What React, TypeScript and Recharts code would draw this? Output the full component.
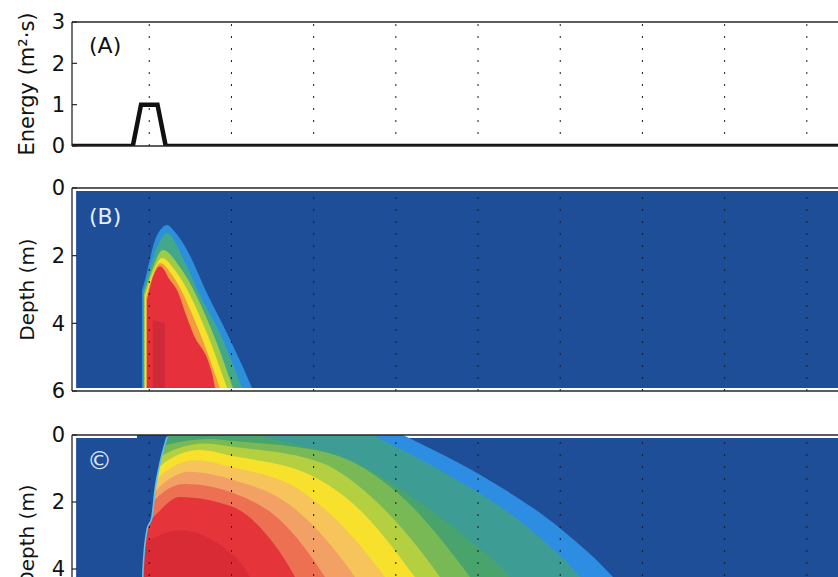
import { ComposedChart, Area, Line, XAxis, YAxis, ReferenceLine, ReferenceArea } from "recharts";

const X_MIN = 0.06;
const X_MAX = 10;
const timeTicks = [1, 2, 3, 4, 5, 6, 7, 8, 9];

// (A) energy input
const energyTime = [0.06, 0.8, 0.9, 1.1, 1.2, 10];
const energy = [0, 0, 1, 1, 0, 0];
const energyTicks = [0, 1, 2, 3];

const depthTicks = [0, 2, 4, 6];

// (B) top of each contour band, [time, depth], outer band first
const bTops = [
  [[0.912, 3.02], [0.948, 2.72], [0.985, 2.34], [1.07, 1.54], [1.155, 1.18], [1.216, 1.09], [1.313, 1.3], [1.459, 1.83], [1.702, 3.11], [1.946, 4.29], [2.14, 5.3], [2.25, 5.91]],
  [[0.924, 3.08], [1.009, 2.37], [1.106, 1.69], [1.216, 1.33], [1.41, 2.07], [1.617, 3.17], [1.86, 4.29], [2.128, 5.91]],
  [[0.936, 3.14], [1.033, 2.43], [1.167, 1.83], [1.374, 2.34], [1.775, 4.29], [2.019, 5.91]],
  [[0.948, 3.2], [1.045, 2.49], [1.155, 2.07], [1.313, 2.43], [1.702, 4.29], [1.946, 5.91]],
  [[0.96, 3.25], [1.058, 2.49], [1.131, 2.22], [1.277, 2.57], [1.617, 4.29], [1.86, 5.91]],
  [[0.972, 3.31], [1.033, 2.72], [1.131, 2.31], [1.252, 2.72], [1.35, 3.08], [1.435, 3.67], [1.532, 4.29], [1.763, 5.47], [1.8, 5.91]],
  [[1.045, 3.9], [1.19, 4.0]],
];
const bColors = ["#2b8fdc", "#43a88a", "#9fcb45", "#f5e12b", "#f49a3f", "#e6303b", "#cf2a3a"];
const B_BOTTOM = 5.91;

// (C) top of each contour band, [time, depth], outer band first
const cTops = [
  [[0.887, -3.5], [4.087, 0], [5.024, 1.19], [5.997, 2.78], [6.642, 4.24], [7.2, 6]],
  [[0.887, -3.3], [3.72, 0], [4.64, 1.19], [5.68, 2.9], [6.25, 4.24], [6.8, 6]],
  [[0.887, -1.8], [2.347, 0], [3.442, 0.75], [4.659, 2.69], [5.388, 4.24], [5.95, 6]],
  [[0.887, 0.8], [1.204, 0.3], [1.739, 0.12], [2.019, 0.18], [3.199, 0.55], [4.05, 1.79], [4.902, 4.24], [5.4, 6]],
  [[0.887, 1.2], [1.167, 0.6], [1.678, 0.25], [2.019, 0.35], [3.077, 0.81], [3.807, 2.09], [4.537, 4.24], [5.0, 6]],
  [[0.887, 1.6], [1.131, 0.93], [1.617, 0.45], [2.019, 0.63], [2.955, 1.19], [3.564, 2.24], [4.233, 4.24], [4.75, 6]],
  [[0.887, 2.0], [1.106, 1.28], [1.556, 0.75], [2.019, 0.96], [2.834, 1.64], [3.868, 4.24], [4.35, 6]],
  [[0.887, 2.3], [1.07, 1.7], [1.496, 1.1], [2.019, 1.34], [2.712, 2.09], [3.503, 4.24], [3.95, 6]],
  [[0.887, 2.5], [1.009, 2.09], [1.435, 1.46], [2.019, 1.73], [2.59, 2.54], [3.138, 4.24], [3.55, 6]],
  [[0.887, 2.8], [1.009, 2.54], [1.374, 1.85], [2.019, 2.15], [2.432, 2.99], [2.773, 4.24], [3.1, 6]],
  [[0.887, 3.3], [1.009, 3.13], [1.374, 2.84], [1.86, 3.28], [2.225, 4.24], [2.5, 6]],
];
const cColors = ["#2d8de2", "#3d9d94", "#48a46c", "#78b955", "#b4cf40", "#f7e12c", "#f6c45a", "#f2a066", "#ee7052", "#e5343a", "#d92b36"];
const C_BOTTOM = 6.3;

// (C) sharp front of the plume
const cFrontTime = [0.85, 0.912, 0.924, 0.972, 1.033, 1.07, 1.131, 1.216, 1.24];
const cFrontDepth = [6.3, 6.3, 4.03, 2.84, 2.45, 1.64, 0.84, 0.06, -0.3];

const FONT = "'DejaVu Sans', sans-serif";
const AXIS = "#262626";
const BG = "#1f4e99";
const W = 899;

const tickStyle = { fontSize: 21, fill: "#111", fontFamily: FONT };

function xAxes() {
  const common = {
    type: "number" as const,
    dataKey: "x",
    domain: [X_MIN, X_MAX],
    ticks: timeTicks,
    tick: false,
    tickSize: -5,
    height: 1,
    allowDataOverflow: true,
    axisLine: { stroke: AXIS, strokeWidth: 1.3 },
    tickLine: { stroke: AXIS, strokeWidth: 1.2 },
  };
  return [
    <XAxis key="xb" {...common} />,
    <XAxis key="xt" xAxisId="top" orientation="top" {...common} />,
  ];
}

function yAxis(domain: number[], ticks: number[], label: string, fontSize: number, reversed = false) {
  return (
    <YAxis
      type="number"
      domain={domain}
      ticks={ticks}
      interval={0}
      reversed={reversed}
      width={72}
      tickSize={-5}
      tickMargin={12}
      allowDataOverflow
      tick={tickStyle}
      axisLine={{ stroke: AXIS, strokeWidth: 1.3 }}
      tickLine={{ stroke: AXIS, strokeWidth: 1.2 }}
      label={{
        value: label,
        angle: -90,
        position: "insideLeft",
        offset: 27,
        style: { textAnchor: "middle", fontSize, fill: "#111", fontFamily: FONT },
      }}
    />
  );
}

function gridLines() {
  return timeTicks.map((t) => (
    <ReferenceLine key={`g${t}`} x={t} stroke="#1a1a1a" strokeWidth={1} strokeDasharray="2 10" />
  ));
}

const energyData = energyTime.map((x, i) => ({ x, e: energy[i] }));
const bBands = bTops.map((pts) => pts.map(([x, d]) => ({ x, band: [d, B_BOTTOM] })));
const cBands = cTops.map((pts) => pts.map(([x, d]) => ({ x, band: [d, C_BOTTOM] })));
const cMask = cFrontTime.map((x, i) => ({ x, band: [-1, cFrontDepth[i]], d: cFrontDepth[i] }));

export default function App() {
  return (
    <div
      style={{
        position: "fixed",
        left: 0,
        top: 0,
        width: 838,
        height: 577,
        overflow: "hidden",
        background: "#fff",
        fontFamily: FONT,
      }}
    >
      <div style={{ position: "absolute", left: 0, top: 0 }}>
        <ComposedChart width={W} height={175} data={energyData} margin={{ top: 21, right: 10, bottom: 28, left: 0 }}>
          {xAxes()}
          {yAxis([0, 3], energyTicks, "Energy (m²·s)", 21)}
          {gridLines()}
          <Line
            type="linear"
            dataKey="e"
            stroke="#111"
            strokeWidth={4.5}
            dot={false}
            activeDot={false}
            isAnimationActive={false}
          />
        </ComposedChart>
      </div>

      <div style={{ position: "absolute", left: 0, top: 160 }}>
        <ComposedChart width={W} height={260} margin={{ top: 27, right: 10, bottom: 28, left: 0 }}>
          {xAxes()}
          {yAxis([0, 6], depthTicks, "Depth (m)", 20, true)}
          <ReferenceArea x1={0.11} x2={X_MAX} y1={0.09} y2={B_BOTTOM} fill={BG} fillOpacity={1} stroke="none" />
          {bBands.map((pts, i) => (
            <Area
              key={`b${i}`}
              data={pts}
              dataKey="band"
              type="monotone"
              fill={bColors[i]}
              fillOpacity={1}
              stroke="none"
              dot={false}
              activeDot={false}
              isAnimationActive={false}
            />
          ))}
          {gridLines()}
        </ComposedChart>
      </div>

      <div style={{ position: "absolute", left: 0, top: 410 }}>
        <ComposedChart width={W} height={230} margin={{ top: 24, right: 10, bottom: 3, left: 0 }}>
          {xAxes()}
          {yAxis([0, 6], depthTicks, "Depth (m)", 20, true)}
          <ReferenceArea x1={0.11} x2={X_MAX} y1={0.09} y2={6} fill={BG} fillOpacity={1} stroke="none" />
          {cBands.map((pts, i) => (
            <Area
              key={`c${i}`}
              data={pts}
              dataKey="band"
              type="monotone"
              fill={cColors[i]}
              fillOpacity={1}
              stroke="none"
              dot={false}
              activeDot={false}
              isAnimationActive={false}
            />
          ))}
          <Area
            data={cMask}
            dataKey="band"
            type="monotone"
            fill={BG}
            fillOpacity={1}
            stroke="none"
            dot={false}
            activeDot={false}
            isAnimationActive={false}
          />
          <Line
            data={cMask.slice(1, -1)}
            dataKey="d"
            type="monotone"
            stroke="#5cc3e6"
            strokeWidth={1.6}
            dot={false}
            activeDot={false}
            isAnimationActive={false}
          />
          {gridLines()}
        </ComposedChart>
      </div>

      <div style={{ position: "absolute", left: 89, top: 34, fontSize: 22, lineHeight: "24px", color: "#111" }}>(A)</div>
      <div style={{ position: "absolute", left: 89, top: 205, fontSize: 22, lineHeight: "24px", color: "#e6edf8" }}>(B)</div>
      <div style={{ position: "absolute", left: 87, top: 447, fontSize: 25, lineHeight: "28px", color: "#dbe5f5" }}>©</div>
    </div>
  );
}
